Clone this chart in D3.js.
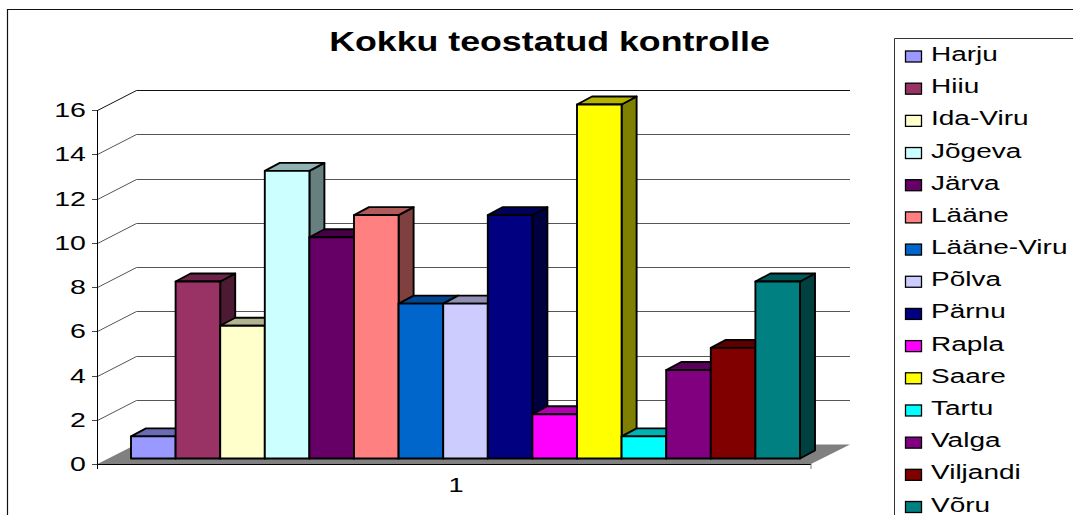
<!DOCTYPE html>
<html><head><meta charset="utf-8">
<script src="https://cdn.jsdelivr.net/npm/d3@7"></script>
<style>html,body{margin:0;padding:0;background:#fff;overflow:hidden}svg{display:block}text{font-family:"Liberation Sans",Arial,sans-serif;fill:#000}</style>
</head><body><script>
const categories=["Harju","Hiiu","Ida-Viru","Jõgeva","Järva","Lääne","Lääne-Viru","Põlva","Pärnu","Rapla","Saare","Tartu","Valga","Viljandi","Võru"];
const values=[1,8,6,13,10,11,7,7,11,2,16,1,4,5,8];
const colors=["#9999FF","#993366","#FFFFCC","#CCFFFF","#660066","#FF8080","#0066CC","#CCCCFF","#000080","#FF00FF","#FFFF00","#00FFFF","#800080","#800000","#008080"];
const yTicks=[0,2,4,6,8,10,12,14,16];
const title="Kokku teostatud kontrolle";
const xLabel="1";

const W=1073,H=515;
const svg=d3.select("body").append("svg").attr("width",W).attr("height",H);
// frame
svg.append("path").attr("d",`M7.5,${H}V9.5H${W}`).attr("fill","none").attr("stroke","#111").attr("stroke-width",1.2);

const wallDx=39,wallDy=-20,barDx=15,barDy=-8;
const yFront=d3.scaleLinear().domain([0,16]).range([464,110]);
const yBar=d3.scaleLinear().domain([0,16]).range([458.5,104.5]);
const x=d3.scaleBand().domain(categories).range([131,800]);
const line=(a,b,c,d,col="#000",w=1)=>svg.append("line").attr("x1",a).attr("y1",b).attr("x2",c).attr("y2",d).attr("stroke",col).attr("stroke-width",w);

// floor
svg.append("polygon").attr("points",[[97.5,464],[811,464],[850,444.5],[136,444.5]].join(" ")).attr("fill","#808080");
line(97.5,464.5,811,464.5,"#000",1);
line(811,464,811,469,"#777",1);
// gridlines and axis
yTicks.forEach(t=>{const yy=Math.round(yFront(t))+.5;
  if(t>0){
    svg.append("path").attr("d",`M97.5,${yy}L136.5,${yy+wallDy}H850`).attr("fill","none").attr("stroke",t==16?"#111":"#555").attr("stroke-width",1);
  }
  line(92,yy,97.5,yy,"#444",1);
  svg.append("text").attr("transform",`translate(86,${yy+6.5}) scale(1.36,1)`).attr("text-anchor","end").attr("font-size",21).text(t);
});
line(97.5,110,97.5,469,"#000",1);

// bars
const dark=(c,k)=>{const r=d3.rgb(c);return d3.rgb(r.r*k,r.g*k,r.b*k).formatHex()};
const g=svg.append("g").attr("stroke","#000").attr("stroke-width",1.9).attr("stroke-linejoin","round");
categories.forEach((c,i)=>{
  const x0=x(c),x1=x0+x.bandwidth(),yt=yBar(values[i]),yb=yBar(0);
  g.append("polygon").attr("points",[[x1,yt],[x1+barDx,yt+barDy],[x1+barDx,yb+barDy],[x1,yb]].join(" ")).attr("fill",dark(colors[i],.5));
  g.append("polygon").attr("points",[[x0,yt],[x0+barDx,yt+barDy],[x1+barDx,yt+barDy],[x1,yt]].join(" ")).attr("fill",dark(colors[i],.7));
  g.append("rect").attr("x",x0).attr("y",yt).attr("width",x.bandwidth()).attr("height",yb-yt).attr("fill",colors[i]);
});

svg.append("text").attr("transform","translate(549.5,50.5) scale(1.324,1)").attr("text-anchor","middle").attr("font-size",27).attr("font-weight","bold").text(title);
svg.append("text").attr("transform","translate(456,492) scale(1.36,1)").attr("text-anchor","middle").attr("font-size",20).text(xLabel);

// legend
svg.append("path").attr("d",`M${W},38.5H894.5V${H}`).attr("fill","none").attr("stroke","#333").attr("stroke-width",1);
const ly=d3.scalePoint().domain(categories).range([54,504.5]);
categories.forEach((c,i)=>{
  const yy=ly(c);
  svg.append("rect").attr("x",905.5).attr("y",yy-3).attr("width",16).attr("height",11).attr("fill",colors[i]).attr("stroke","#000").attr("stroke-width",1.3);
  svg.append("text").attr("transform",`translate(931,${yy+7}) scale(1.4,1)`).attr("font-size",20).text(c);
});
</script></body></html>
